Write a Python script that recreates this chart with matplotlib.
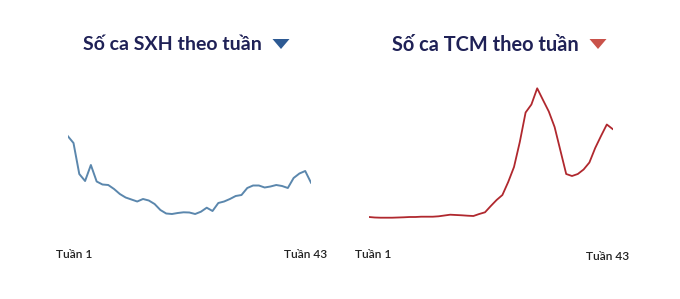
import matplotlib
matplotlib.use('Agg')
import matplotlib.pyplot as plt
from matplotlib.patches import Polygon

weeks = list(range(1, 44))

# Số ca SXH (relative units)
sxh = [890, 820, 510, 440, 600, 435, 405, 400, 360, 310,
       275, 255, 235, 260, 245, 210, 150, 115, 110, 120,
       127, 125, 110, 133, 173, 140, 220, 235, 260, 290,
       300, 370, 395, 395, 375, 385, 400, 390, 370, 470,
       515, 540, 423]

# Số ca TCM
tcm = [50, 45, 43, 43, 43, 45, 47, 50, 50, 53,
       53, 53, 57, 65, 73, 70, 67, 63, 60, 80,
       97, 160, 220, 270, 400, 550, 800, 1095, 1175, 1337,
       1220, 1105, 950, 715, 480, 460, 480, 525, 595, 740,
       860, 975, 930]

titles = ['Số ca SXH theo tuần', 'Số ca TCM theo tuần']
start_label = 'Tuần 1'
end_label = 'Tuần 43'

W, H = 680, 299
fig = plt.figure(figsize=(W / 100, H / 100), dpi=100)
fig.patch.set_facecolor('white')


def px_axes(x0, x1, ytop, ybot):
    return fig.add_axes([x0 / W, 1 - ybot / H, (x1 - x0) / W, (ybot - ytop) / H])


ax1 = px_axes(67.7, 311, 80, 230)
ax1.plot(weeks, sxh, color='#5b87ad', lw=1.4)
ax1.set_xlim(1, 43)
ax1.set_ylim(-50, 1450)

ax2 = px_axes(369, 612.6, 80, 230)
ax2.plot(weeks, tcm, color='#b0282e', lw=1.3)
ax2.set_xlim(1, 43)
ax2.set_ylim(-80, 1420)

for ax in (ax1, ax2):
    ax.axis('off')


def triangle(cx, cy, color, w=17, h=10):
    pts = [((cx - w / 2) / W, 1 - (cy - h / 2) / H),
           ((cx + w / 2) / W, 1 - (cy - h / 2) / H),
           (cx / W, 1 - (cy + h / 2) / H)]
    fig.patches.append(Polygon(pts, closed=True, transform=fig.transFigure,
                               facecolor=color, edgecolor='none'))


navy = '#1f2156'
fig.text(172 / W, 1 - 45 / H, titles[0], ha='center', va='center',
         family='Lato', weight='bold', size=14, color=navy)
triangle(281, 44, '#2d5a93')
fig.text(485 / W, 1 - 45 / H, titles[1], ha='center', va='center',
         family='Lato', weight='bold', size=14.4, color=navy)
triangle(598, 44, '#c9524a')

lab = dict(va='center', family='Lato', size=8.6, weight='semibold', color='#222222')
fig.text(56 / W, 1 - 254 / H, start_label, ha='left', **lab)
fig.text(327 / W, 1 - 254 / H, end_label, ha='right', **lab)
fig.text(355 / W, 1 - 255 / H, start_label, ha='left', **lab)
fig.text(629 / W, 1 - 256 / H, end_label, ha='right', **lab)

fig.savefig('out.png', dpi=100, facecolor='white')
